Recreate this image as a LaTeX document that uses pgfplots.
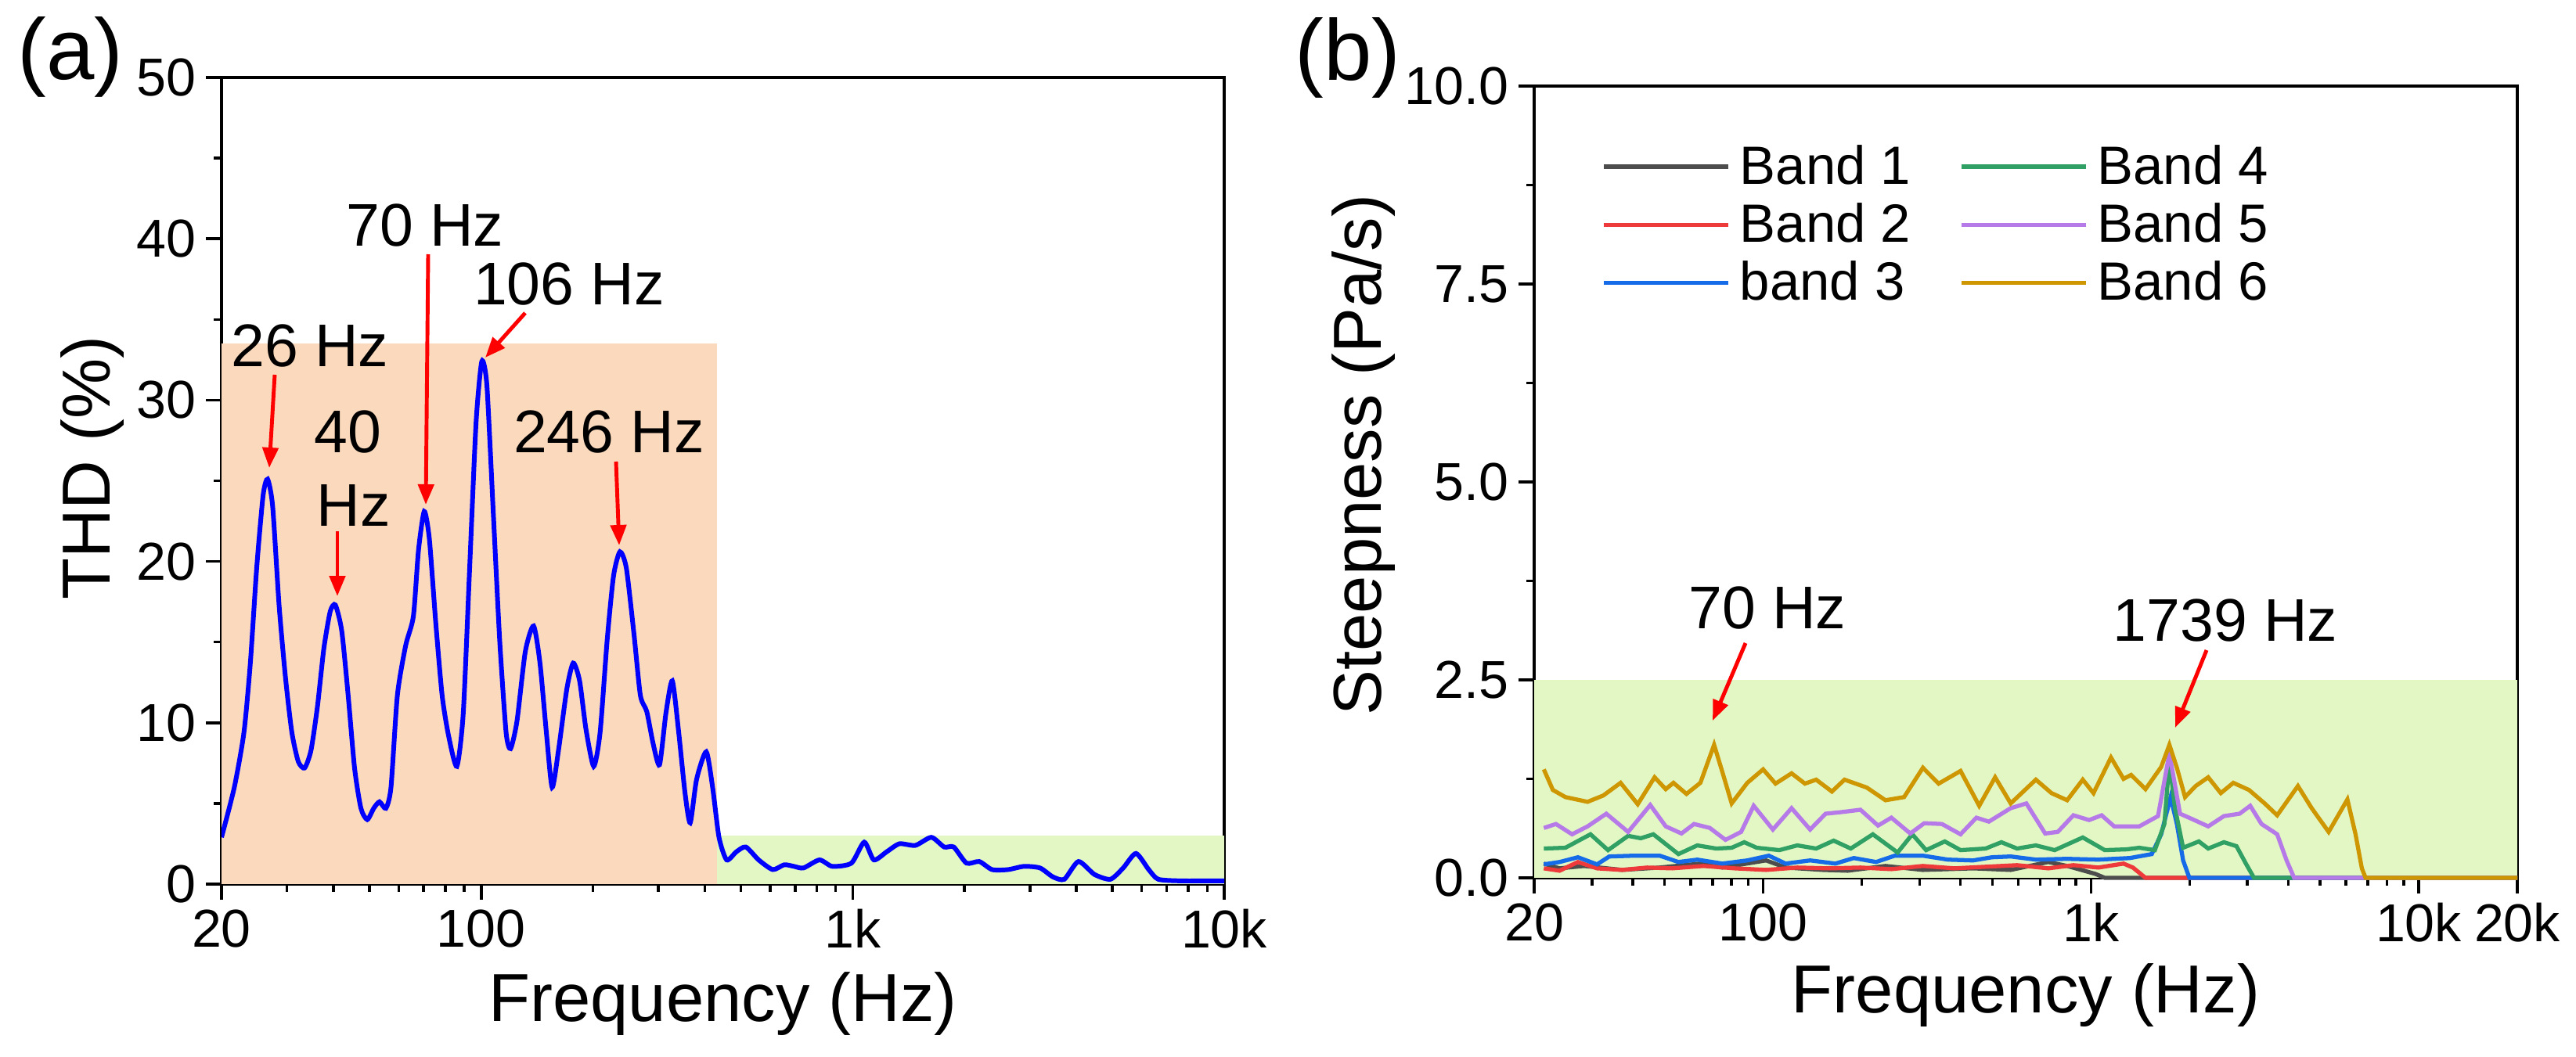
\documentclass[border=0pt]{standalone}
\usepackage{fontspec}
\setmainfont{Liberation Sans}
\usepackage{pgfplots}
\pgfplotsset{compat=1.18}
\usetikzlibrary{arrows.meta}
\definecolor{thdblue}{RGB}{0,0,255}
\definecolor{orfill}{RGB}{250,217,188}
\definecolor{grfill}{RGB}{226,247,196}
\definecolor{bandA}{RGB}{77,77,77}
\definecolor{bandB}{RGB}{238,58,58}
\definecolor{bandC}{RGB}{22,108,232}
\definecolor{bandD}{RGB}{48,160,100}
\definecolor{bandE}{RGB}{182,122,232}
\definecolor{bandF}{RGB}{206,150,0}
\pgfplotsset{myaxisstyle/.style={scale only axis, tick align=outside, tick pos=left,
  major tick length=0.2cm, minor tick length=0.1cm,
  axis line style={line width=1pt}, every tick/.style={black, line width=1pt},
  ticklabel style={font=\fontsize{19.4}{23}\selectfont},
  label style={font=\fontsize{24.7}{29}\selectfont}}}
\tikzset{anno/.style={font=\fontsize{21.9}{26}\selectfont, inner sep=0pt},
  redarrow/.style={red, line width=1.4pt, -{Triangle[width=0.2cm,length=0.26cm]}}}
\begin{document}
\begin{tikzpicture}[x=1cm,y=1cm]
\useasboundingbox (0,0) rectangle (32.91,13.5);

\begin{semilogxaxis}[myaxisstyle, at={(2.83cm,2.20cm)}, anchor=south west, width=12.81cm, height=10.31cm,
  xmin=20, xmax=10000, ymin=0, ymax=50,
  xtick={20,100,1000,10000}, xticklabels={20,100,1k,10k},
  minor xtick={30,40,50,60,70,80,90,200,300,400,500,600,700,800,900,2000,3000,4000,5000,6000,7000,8000,9000},
  ytick={0,10,20,30,40,50}, yticklabels={0,10,20,30,40,50}, minor ytick={5,15,25,35,45},
  xlabel={Frequency (Hz)}, ylabel={THD (\%)},
  xlabel style={at={(axis description cs:0.5,-0.148)}, anchor=center},
  ylabel style={at={(axis description cs:-0.129,0.516)}, anchor=center}]
\addplot[draw=none, fill=orfill] coordinates {(20,0) (20,33.5) (432,33.5) (432,0)};
\addplot[draw=none, fill=grfill] coordinates {(432,0) (432,3.0) (10000,3.0) (10000,0)};
\addplot[thdblue, line width=1.7pt, smooth, tension=0.4] table {
20 2.9
21.65 6.0
22.98 9.4
23.91 13.7
24.87 19.6
25.88 24.1
26.61 25.1
27.46 23.4
28.57 17.3
29.73 12.8
30.93 9.4
32.18 7.6
33.48 7.2
34.83 8.3
36.24 11.0
37.71 14.6
39.23 16.9
40.50 17.3
42.13 15.7
43.84 11.7
45.61 7.2
47.45 4.7
49.37 4.0
51.37 4.7
53.23 5.1
55.39 4.7
57.17 6.0
59.48 11.7
62.63 14.8
65.68 16.6
67.80 20.7
70.26 23.1
72.52 21.4
75.46 16.2
78.51 11.7
81.68 9.2
86.00 7.3
89.48 10.6
93.09 19.6
96.86 28.6
100.37 32.4
103.60 30.9
107.79 23.0
112.15 15.1
116.68 9.4
119.97 8.4
124.82 10.1
131.41 14.4
138.36 16.0
143.96 13.7
149.77 9.4
155.21 6.0
161.48 8.3
170.02 12.1
176.89 13.7
184.04 12.6
191.48 9.6
200.83 7.3
208.95 9.4
218.26 15.1
227.08 19.1
236.26 20.6
245.81 19.6
257.77 15.5
268.19 11.7
279.03 10.7
290.31 8.7
302.04 7.4
314.25 10.6
326.95 12.6
340.17 9.4
353.92 5.6
365.32 3.8
380.08 6.5
403.37 8.2
419.67 6.0
436.63 2.9
457.90 1.5
486.02 2.0
515.62 2.3
558.34 1.5
609.25 0.9
654.33 1.2
694.43 1.1
736.99 1.0
813.92 1.5
881.10 1.1
992.11 1.3
1074.1 2.6
1139.9 1.5
1233.9 2.0
1335.5 2.5
1474.7 2.4
1628.4 2.9
1762.7 2.3
1870.7 2.3
2024.6 1.3
2191.6 1.4
2372.2 0.9
2619.6 0.9
2892.4 1.1
3194.0 1.0
3457.2 0.45
3712.4 0.3
4051.4 1.4
4473.6 0.6
4939.8 0.3
5346.6 1.0
5787.0 1.9
6263.8 0.9
6647.0 0.3
7638.8 0.2
8949.8 0.2
10000 0.2
};
\end{semilogxaxis}

\begin{semilogxaxis}[myaxisstyle, at={(19.60cm,2.28cm)}, anchor=south west, width=12.56cm, height=10.12cm,
  xmin=20, xmax=20000, ymin=0, ymax=10, clip=false,
  xtick={20,100,1000,10000,20000}, xticklabels={20,100,1k,10k,20k},
  minor xtick={30,40,50,60,70,80,90,200,300,400,500,600,700,800,900,2000,3000,4000,5000,6000,7000,8000,9000},
  ytick={0,2.5,5,7.5,10}, yticklabels={0.0,2.5,5.0,7.5,10.0}, minor ytick={1.25,3.75,6.25,8.75},
  xlabel={Frequency (Hz)}, ylabel={Steepness (Pa/s)},
  xlabel style={at={(axis description cs:0.5,-0.148)}, anchor=center},
  ylabel style={at={(axis description cs:-0.1736,0.534)}, anchor=center},
  legend columns=3, transpose legend, legend cell align=left,
  legend image code/.code={\draw[#1] (0cm,0cm) -- (1.59cm,0cm);},
  legend style={draw=none, fill=none, at={(axis description cs:0.06,0.94)}, anchor=north west,
    font=\fontsize{19.6}{23}\selectfont, row sep=0.05cm,
    /tikz/every odd column/.append style={column sep=0.05cm},
    /tikz/every even column/.append style={column sep=0.55cm}}]
\addplot[draw=none, fill=grfill, forget plot] coordinates {(20,0) (20,2.5) (20000,2.5) (20000,0)};
\addplot[bandA, line width=1.5pt] table {
21.4 0.18
23.9 0.12
28.4 0.15
37.1 0.10
48.3 0.13
64.3 0.18
75.0 0.13
102 0.22
117 0.13
152 0.10
181 0.09
236 0.15
307 0.10
437 0.12
569 0.10
741 0.20
846 0.15
1031 0.05
1102 0
20000 0
};
\addlegendentry{Band 1}
\addplot[bandB, line width=1.5pt] table {
21.4 0.12
23.9 0.09
27.2 0.20
31.1 0.12
37.1 0.10
44.2 0.13
52.7 0.12
65.7 0.15
81.9 0.12
102 0.10
127 0.13
159 0.12
198 0.13
246 0.11
307 0.15
383 0.12
477 0.14
595 0.16
741 0.12
884 0.16
1054 0.13
1257 0.18
1343 0.13
1467 0
20000 0
};
\addlegendentry{Band 2}
\addplot[bandC, line width=1.5pt] table {
21.4 0.17
23.9 0.20
27.2 0.26
31.1 0.17
33.9 0.27
40.5 0.28
48.3 0.28
55.1 0.20
62.9 0.23
75.0 0.18
89.4 0.22
104 0.28
117 0.18
139 0.22
166 0.18
189 0.25
221 0.20
252 0.28
307 0.28
366 0.23
437 0.22
499 0.26
569 0.27
679 0.23
846 0.24
1054 0.23
1314 0.25
1533 0.30
1638 0.55
1750 1.02
1829 0.68
1911 0.22
1997 0
20000 0
};
\addlegendentry{band 3}
\addplot[bandD, line width=1.5pt] table {
21.4 0.37
24.9 0.38
29.7 0.55
33.6 0.35
38.7 0.53
42.3 0.50
46.2 0.55
55.1 0.30
62.9 0.41
71.8 0.37
80.1 0.38
87.5 0.45
95.5 0.38
112 0.35
127 0.41
145 0.37
164 0.47
185 0.37
216 0.55
257 0.32
285 0.55
314 0.35
358 0.46
400 0.35
477 0.37
533 0.45
595 0.37
679 0.41
775 0.35
944 0.51
1102 0.35
1286 0.36
1404 0.38
1567 0.35
1675 0.68
1735 1.47
1805 0.88
1911 0.38
2134 0.46
2279 0.37
2546 0.45
2780 0.40
2970 0.18
3144 0
20000 0
};
\addlegendentry{Band 4}
\addplot[bandE, line width=1.5pt] table {
21.4 0.63
23.3 0.68
26.1 0.55
29.1 0.65
33.2 0.81
38.7 0.58
45.2 0.92
50.4 0.65
56.3 0.56
61.5 0.68
68.7 0.63
76.7 0.48
85.6 0.58
93.5 0.91
107 0.61
122 0.88
139 0.61
155 0.81
173 0.83
198 0.86
224 0.66
246 0.76
281 0.56
310 0.69
351 0.68
400 0.55
447 0.76
488 0.71
569 0.88
635 0.94
725 0.56
792 0.58
884 0.79
987 0.73
1078 0.79
1177 0.65
1404 0.65
1602 0.78
1735 1.57
1870 0.81
2042 0.74
2279 0.65
2546 0.78
2842 0.81
3062 0.91
3315 0.68
3701 0.55
3954 0.22
4169 0
20000 0
};
\addlegendentry{Band 5}
\addplot[bandF, line width=1.5pt] table {
21.4 1.37
22.8 1.11
24.9 1.02
29.1 0.96
32.5 1.04
36.7 1.20
41.4 0.93
46.6 1.27
50.4 1.12
53.2 1.20
58.3 1.06
64.3 1.20
70.8 1.68
75.0 1.34
80.1 0.94
89.4 1.20
99.9 1.37
109 1.19
122 1.32
134 1.19
145 1.24
162 1.09
177 1.24
207 1.14
236 0.98
269 1.02
307 1.39
343 1.19
400 1.35
456 0.91
510 1.27
569 0.94
679 1.24
758 1.07
846 0.98
944 1.24
1018 1.07
1151 1.52
1257 1.25
1326 1.30
1467 1.12
1638 1.40
1735 1.68
1829 1.39
1937 1.02
2087 1.16
2279 1.27
2490 1.07
2719 1.20
3036 1.11
3389 0.94
3701 0.79
4281 1.16
4716 0.88
5312 0.58
6061 0.99
6418 0.55
6709 0.12
6887 0
20000 0
};
\addlegendentry{Band 6}
\end{semilogxaxis}

\node[font=\fontsize{31.4}{36}\selectfont] at (0.90,12.77) {(a)};
\node[font=\fontsize{31.4}{36}\selectfont] at (17.22,12.76) {(b)};

\node[anno] at (3.96,9.08) {26 Hz};
\node[anno, anchor=west] at (4.01,7.98) {40};
\node[anno, anchor=west] at (4.04,7.04) {Hz};
\node[anno] at (5.43,10.62) {70 Hz};
\node[anno] at (7.27,9.87) {106 Hz};
\node[anno] at (7.78,7.98) {246 Hz};
\draw[redarrow] (3.51,8.71) -- (3.44,7.52);
\draw[redarrow] (4.31,6.71) -- (4.31,5.88);
\draw[redarrow] (5.47,10.25) -- (5.44,7.05);
\draw[redarrow] (6.71,9.50) -- (6.20,8.93);
\draw[redarrow] (7.87,7.60) -- (7.91,6.53);

\node[anno] at (22.58,5.73) {70 Hz};
\node[anno] at (28.43,5.57) {1739 Hz};
\draw[redarrow] (22.30,5.28) -- (21.88,4.29);
\draw[redarrow] (28.19,5.19) -- (27.79,4.20);
\end{tikzpicture}
\end{document}
